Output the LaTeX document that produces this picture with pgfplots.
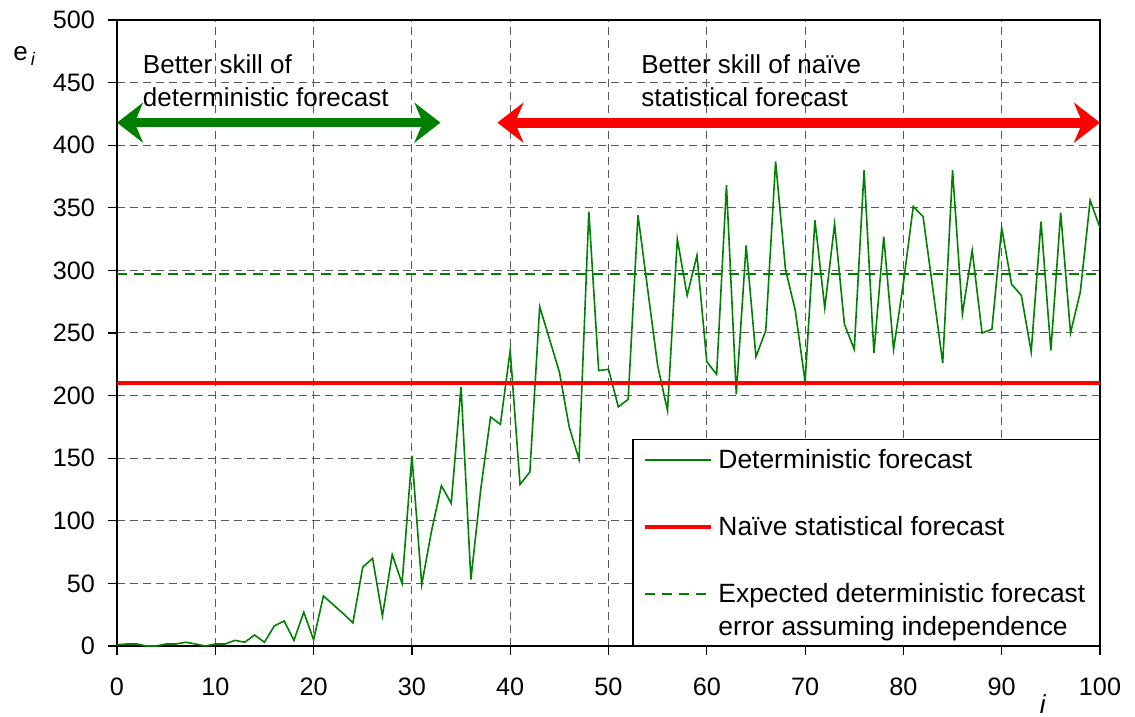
\documentclass[border=0pt]{standalone}
\usepackage{fontspec}
\setmainfont{Liberation Sans}
\usepackage{pgfplots}
\usepackage{pgfplotstable}
\pgfplotsset{compat=1.18}
\usetikzlibrary{arrows.meta}

\definecolor{fcgreen}{RGB}{0,128,0}
\definecolor{fcred}{RGB}{255,0,0}

% two-line legend entry: the node sits on its last line, so lift the sample to the first
\pgfplotsset{lifted legend/.style={
    legend image code/.code={\draw[##1] (0pt,20.8pt) -- (33pt,20.8pt);}}}

% forecast error e_i against lead index i
\pgfplotstableread{
i e
0 1
1 1.6
2 1.6
3 0
4 0
5 1.6
6 1.6
7 3
8 1.6
9 0
10 1.6
11 1.6
12 4.5
13 3
14 8.8
15 3
16 16
17 20
18 4.5
19 27
20 5
21 40
22 33
23 26
24 18.5
25 63
26 70
27 24
28 73
29 50
30 152
31 49
32 92
33 128
34 114
35 207
36 53
37 125
38 183
39 177
40 236
41 129
42 139
43 271
44 245
45 219
46 175
47 149
48 347
49 220
50 221
51 191
52 197
53 344
54 284
55 224
56 188
57 325
58 280
59 312
60 227
61 217
62 368
63 201
64 320
65 231
66 252
67 387
68 301
69 268
70 211
71 340
72 270
73 337
74 257
75 237
76 380
77 234
78 327
79 237
80 290
81 351
82 343
83 285
84 226
85 380
86 265
87 316
88 250
89 253
90 334
91 289
92 280
93 235
94 339
95 236
96 346
97 250
98 283
99 356
100 334
}\errtable

\begin{document}
\fontsize{13}{16.5}\selectfont
\begin{tikzpicture}
\begin{axis}[
    scale only axis,
    width=491.5pt, height=313pt,
    xmin=0, xmax=100, ymin=0, ymax=500,
    xtick={0,10,...,100},
    ytick={0,50,...,500},
    tick pos=left,
    tick align=outside,
    major tick length=4.5pt,
    tick style={black, line width=0.6pt},
    grid=major,
    major grid style={black!65, line width=0.5pt, dash pattern=on 4pt off 2.5pt},
    axis line style={black, line width=0.8pt},
    /pgf/number format/assume math mode=true,
    tick label style={font=\fontsize{12.6}{14}\selectfont},
    yticklabel style={xshift=-2pt},
    xticklabel style={yshift=-7pt},
    clip=false,
    legend image code/.code={\draw[#1] (0pt,4.3pt) -- (33pt,4.3pt);},
    legend style={
        at={(1,0)}, anchor=south east,
        draw=black, line width=0.7pt,
        inner xsep=5pt, inner ysep=1pt,
        row sep=16pt, column sep=1pt,
        nodes={inner sep=2pt, anchor=base west, align=left},
        font=\fontsize{13.2}{16.5}\selectfont,
    },
]
\addplot[fcgreen, line width=0.8pt] table[x=i, y=e] {\errtable};
\addlegendentry{\strut Deterministic forecast}
\addplot[fcred, line width=1.8pt] coordinates {(0,210) (100,210)};
\addlegendentry{\strut Naïve statistical forecast}
\addplot[fcgreen, line width=1.1pt, dash pattern=on 5pt off 3.5pt, lifted legend]
    coordinates {(0,297) (100,297)};
\addlegendentry{\strut Expected deterministic forecast\\error assuming independence}

% arrows and notes
\draw[fcgreen, line width=4.5pt,
      {Stealth[length=13pt,width=20pt]}-{Stealth[length=13pt,width=20pt]}]
      (axis cs:0,418) -- (axis cs:32.9,418);
\draw[fcred, line width=5pt,
      {Stealth[length=13pt,width=20pt]}-{Stealth[length=13pt,width=20pt]}]
      (axis cs:38.7,418) -- (axis cs:100,418);
\node[anchor=base west, align=left, inner sep=0pt] at (axis cs:2.6,431.3)
      {Better skill of\\deterministic forecast};
\node[anchor=base west, align=left, inner sep=0pt] at (axis cs:53.3,431.3)
      {Better skill of naïve\\statistical forecast};

% axis labels
\node[anchor=base west, inner sep=0pt] at (axis description cs:-0.1058,0.935)
      {e\kern1.5pt\textsubscript{\textit{i}}};
\node[anchor=base, inner sep=0pt] at (axis description cs:0.942,-0.1086) {\textit{i}};
\end{axis}
\pgfresetboundingbox
\path ([shift={(-58.5pt,-35.5pt)}]current axis.south west)
      rectangle ([shift={(17.5pt,10pt)}]current axis.north east);
\end{tikzpicture}
\end{document}
